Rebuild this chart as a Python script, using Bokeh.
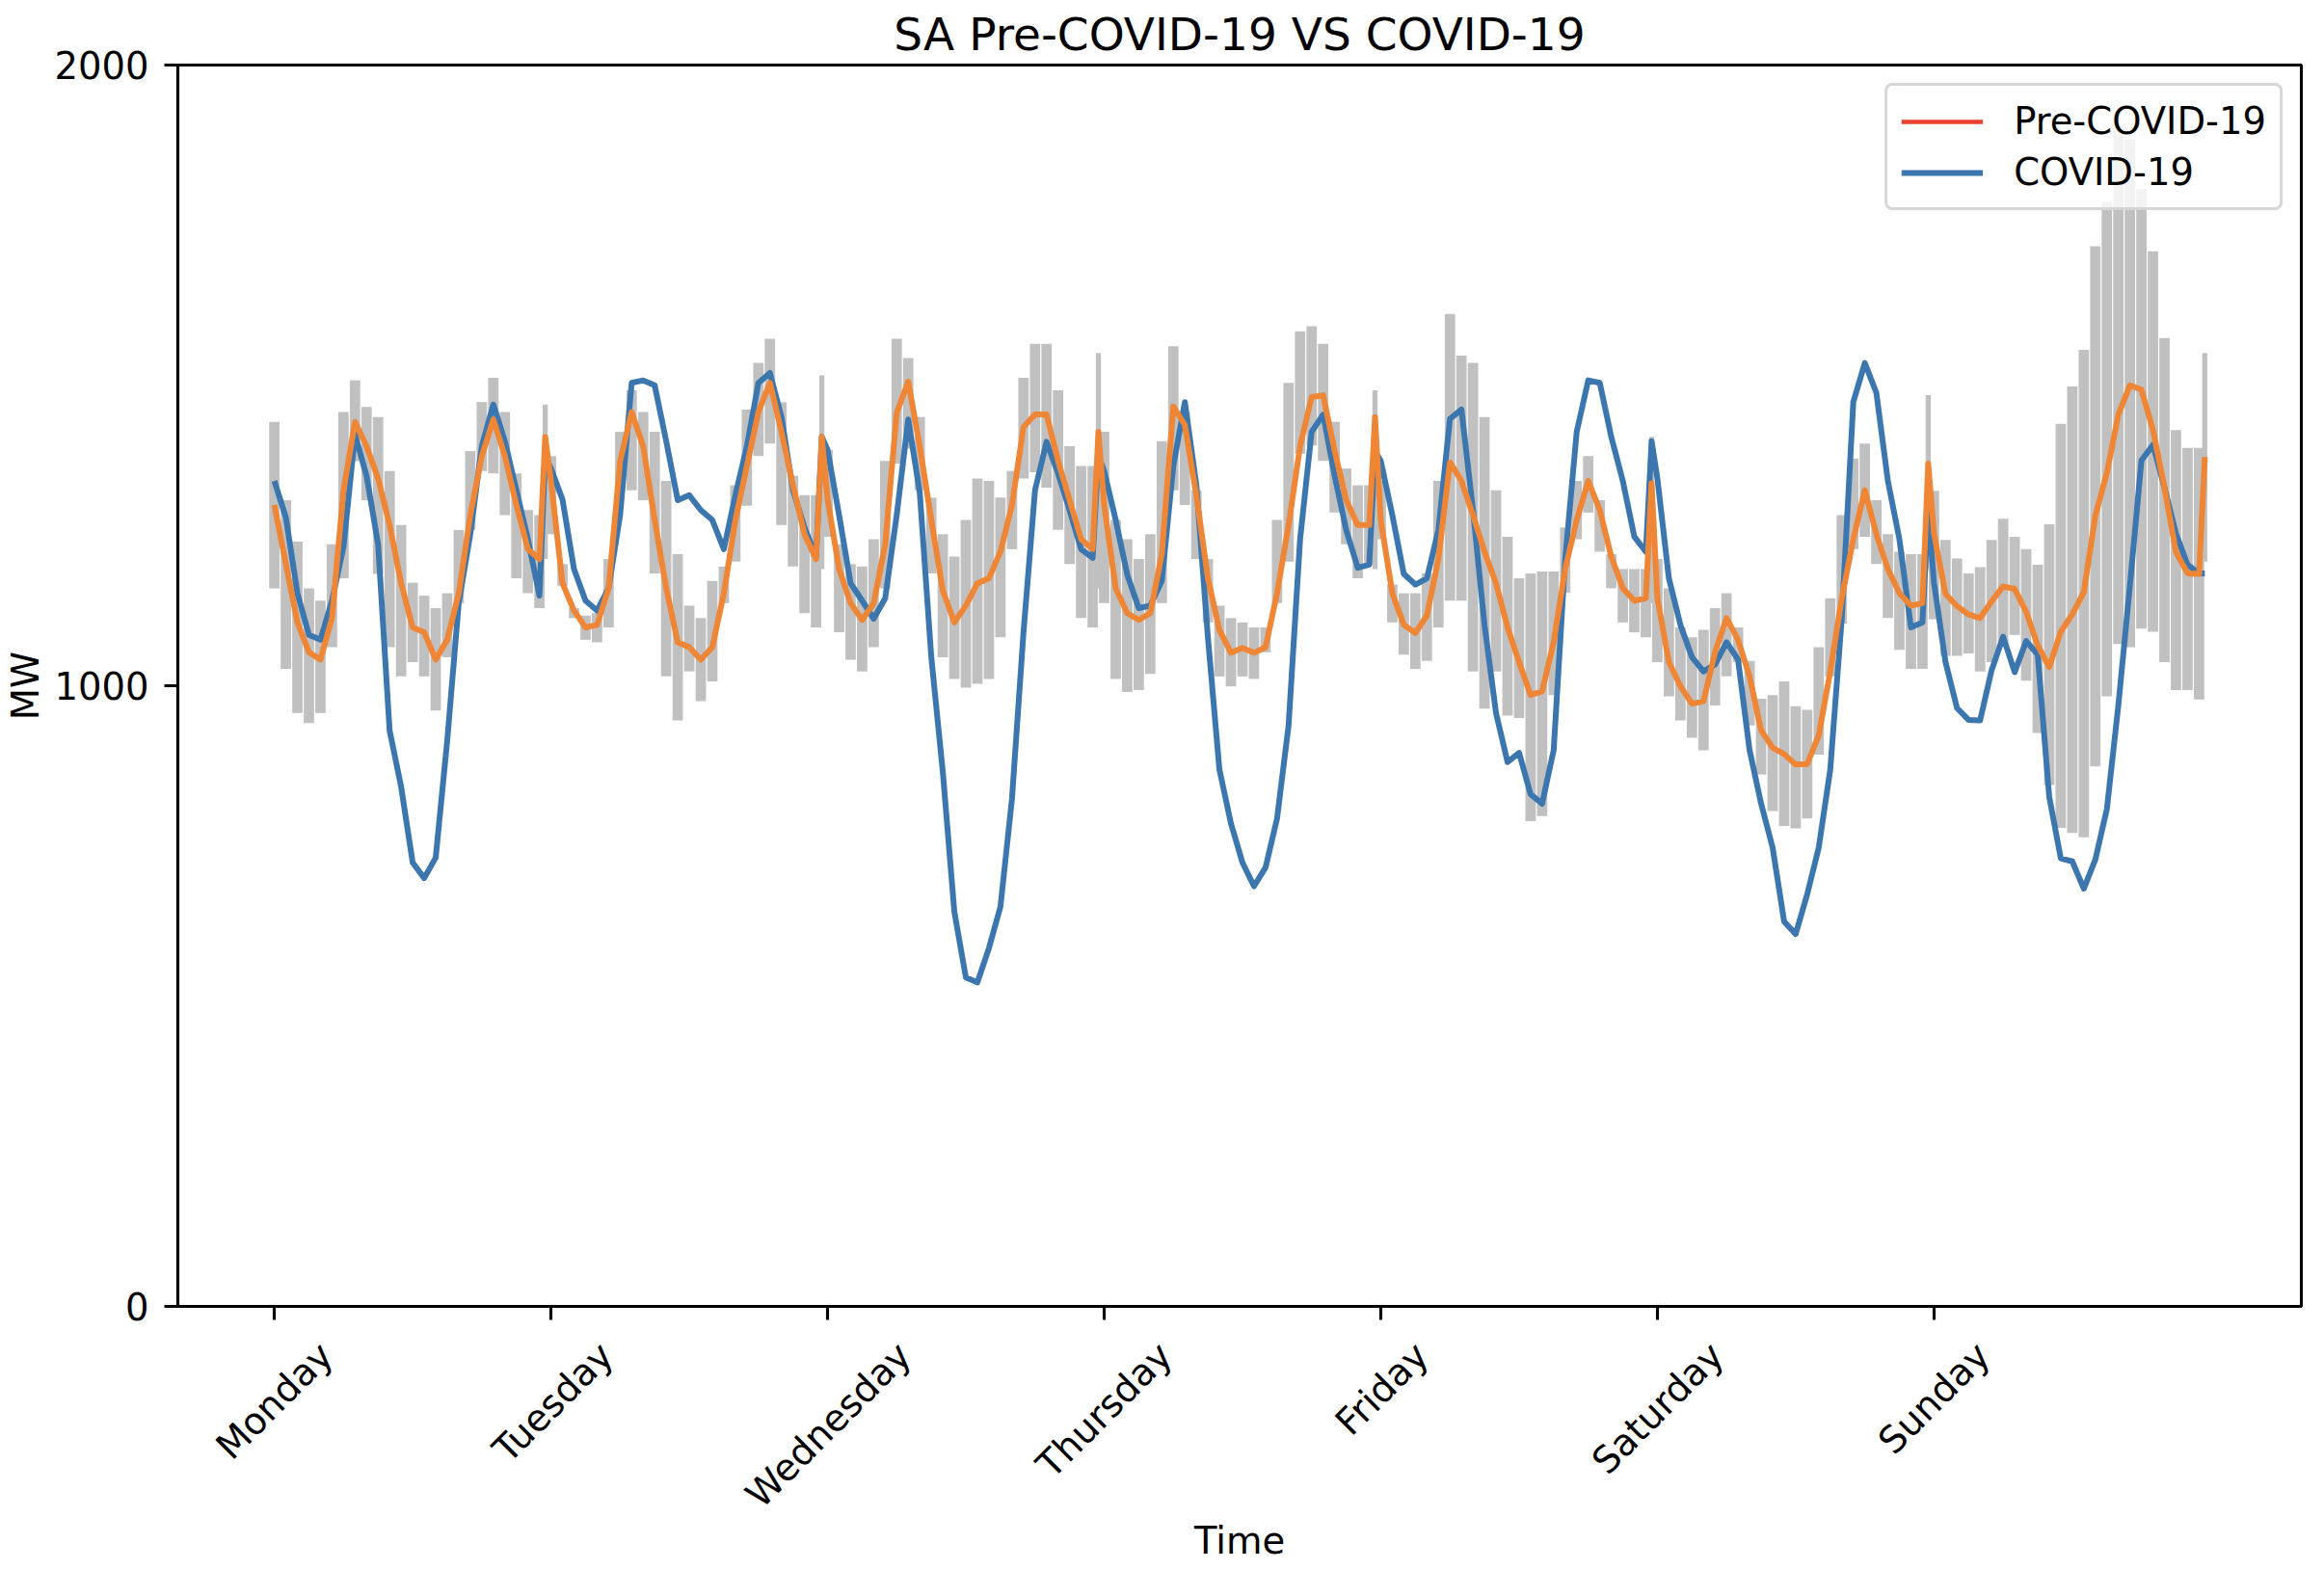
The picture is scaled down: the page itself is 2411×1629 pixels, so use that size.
import math
from bokeh.plotting import figure
from bokeh.models import (Range1d, FixedTicker, Legend, LegendItem, LinearAxis,
                          CustomJSTickFormatter, ColumnDataSource)
from bokeh.embed import file_html
from bokeh.resources import INLINE

# ---------------- data ----------------
DAYS = ["Monday", "Tuesday", "Wednesday", "Thursday", "Friday", "Saturday", "Sunday"]
# half-hour slot of each reading inside a day: every full hour, plus 23:30
DAY_SLOTS = [0, 2, 4, 6, 8, 10, 12, 14, 16, 18, 20, 22, 24, 26, 28, 30,
             32, 34, 36, 38, 40, 42, 44, 46, 47]
SLOTS_PER_DAY = 48

# Pre-COVID-19 mean demand (MW), one row per day
pre_mean = [
    1291, 1196, 1102, 1054, 1042, 1109, 1315, 1425, 1386, 1334, 1259, 1165, 1094, 1086, 1042, 1074, 1149, 1275, 1370, 1429, 1370, 1291, 1220, 1204, 1401,
    1330, 1165, 1121, 1094, 1098, 1157, 1362, 1441, 1386, 1267, 1157, 1070, 1062, 1042, 1062, 1149, 1267, 1354, 1441, 1488, 1409, 1323, 1244, 1204, 1401,
    1300, 1188, 1133, 1106, 1133, 1228, 1440, 1490, 1386, 1267, 1153, 1102, 1129, 1165, 1173, 1216, 1291, 1417, 1437, 1437, 1362, 1299, 1236, 1220, 1409,
    1291, 1157, 1117, 1106, 1117, 1212, 1450, 1420, 1307, 1173, 1090, 1053, 1061, 1053, 1062, 1149, 1259, 1386, 1465, 1468, 1378, 1299, 1259, 1259, 1433,
    1267, 1149, 1098, 1085, 1113, 1204, 1360, 1330, 1275, 1216, 1165, 1094, 1038, 985, 991, 1070, 1188, 1267, 1330, 1283, 1208, 1157, 1137, 1141, 1326,
    1141, 1038, 999, 971, 975, 1054, 1109, 1074, 1015, 928, 900, 890, 873, 874, 920, 1023, 1141, 1236, 1315, 1244, 1188, 1149, 1129, 1133, 1358,
    1245, 1148, 1128, 1115, 1109, 1136, 1160, 1156, 1119, 1065, 1030, 1087, 1115, 1151, 1274, 1343, 1437, 1484, 1477, 1412, 1319, 1215, 1181, 1180, 1368,
]

# COVID-19 demand (MW)
covid = [
    1330, 1271, 1149, 1082, 1074, 1137, 1224, 1405, 1338, 1228, 928, 837, 715, 690, 723, 912, 1133, 1244, 1386, 1453, 1394, 1315, 1236, 1145, 1370,
    1350, 1300, 1188, 1137, 1121, 1157, 1275, 1488, 1492, 1484, 1394, 1299, 1307, 1283, 1267, 1220, 1307, 1386, 1488, 1504, 1433, 1315, 1255, 1208, 1401,
    1380, 1275, 1165, 1137, 1108, 1141, 1275, 1429, 1311, 1046, 861, 636, 530, 522, 577, 644, 818, 1086, 1315, 1393, 1342, 1283, 1220, 1206, 1370,
    1346, 1267, 1179, 1125, 1129, 1169, 1354, 1457, 1323, 1078, 865, 778, 715, 677, 707, 786, 936, 1236, 1409, 1437, 1338, 1251, 1190, 1195, 1378,
    1362, 1275, 1180, 1163, 1173, 1251, 1430, 1445, 1283, 1098, 956, 877, 892, 825, 810, 896, 1204, 1409, 1492, 1488, 1401, 1330, 1240, 1216, 1394,
    1334, 1173, 1098, 1046, 1023, 1034, 1070, 1042, 896, 810, 739, 620, 600, 664, 739, 865, 1109, 1457, 1520, 1472, 1330, 1236, 1094, 1102, 1283,
    1166, 1038, 964, 945, 944, 1025, 1079, 1022, 1072, 1050, 821, 722, 717, 673, 720, 801, 969, 1161, 1363, 1388, 1319, 1245, 1195, 1181, 1181,
]

# Pre-COVID-19 range: maximum (MW)
pre_max = [
    1425, 1299, 1232, 1157, 1137, 1228, 1441, 1492, 1449, 1433, 1346, 1259, 1166, 1145, 1125, 1149, 1251, 1378, 1457, 1496, 1441, 1342, 1283, 1275, 1453,
    1370, 1196, 1125, 1113, 1117, 1204, 1409, 1476, 1441, 1409, 1330, 1212, 1129, 1109, 1169, 1192, 1323, 1445, 1520, 1559, 1457, 1338, 1307, 1307, 1500,
    1380, 1228, 1196, 1192, 1236, 1362, 1559, 1528, 1433, 1303, 1244, 1208, 1267, 1334, 1330, 1303, 1346, 1496, 1551, 1551, 1476, 1386, 1354, 1354, 1536,
    1409, 1267, 1236, 1204, 1244, 1394, 1547, 1441, 1315, 1204, 1129, 1109, 1102, 1094, 1094, 1267, 1488, 1571, 1579, 1551, 1425, 1350, 1323, 1323, 1476,
    1330, 1163, 1149, 1149, 1181, 1330, 1599, 1532, 1520, 1433, 1315, 1240, 1173, 1181, 1184, 1184, 1255, 1330, 1370, 1299, 1212, 1188, 1188, 1188, 1401,
    1204, 1157, 1094, 1078, 1090, 1125, 1149, 1094, 1040, 979, 985, 1007, 967, 961, 1062, 1141, 1275, 1366, 1390, 1299, 1244, 1216, 1212, 1212, 1468,
    1314, 1235, 1205, 1181, 1191, 1235, 1269, 1240, 1220, 1195, 1260, 1422, 1482, 1541, 1708, 1780, 1900, 1880, 1800, 1700, 1560, 1412, 1383, 1383, 1536,
]

# Pre-COVID-19 range: minimum (MW)
pre_min = [
    1157, 1027, 956, 940, 956, 1062, 1173, 1362, 1299, 1180, 1062, 1015, 1038, 1015, 960, 1046, 1133, 1251, 1346, 1342, 1275, 1173, 1149, 1125, 1204,
    1244, 1161, 1109, 1074, 1070, 1094, 1315, 1315, 1299, 1181, 1015, 944, 1023, 975, 1007, 1133, 1200, 1290, 1370, 1390, 1259, 1192, 1117, 1094, 1188,
    1240, 1086, 1042, 1023, 1062, 1157, 1358, 1382, 1315, 1181, 1046, 1011, 997, 1003, 1011, 1078, 1220, 1334, 1344, 1319, 1251, 1196, 1109, 1094, 1157,
    1133, 1011, 990, 993, 1019, 1133, 1315, 1291, 1204, 1102, 1015, 999, 1015, 1011, 1054, 1133, 1200, 1374, 1387, 1362, 1279, 1228, 1173, 1196, 1188,
    1236, 1102, 1050, 1027, 1040, 1094, 1137, 1137, 1023, 963, 1023, 952, 948, 782, 790, 985, 1150, 1236, 1279, 1216, 1157, 1102, 1086, 1078, 1133,
    1038, 983, 944, 916, 896, 968, 1015, 1038, 936, 857, 798, 774, 770, 786, 889, 1015, 1100, 1220, 1240, 1196, 1109, 1058, 1027, 1027, 1188,
    1107, 1048, 1048, 1052, 1023, 1038, 1067, 1082, 1008, 924, 840, 771, 763, 756, 870, 983, 1067, 1062, 1092, 1087, 1038, 993, 993, 978, 1200,
]

TITLE = "SA Pre-COVID-19 VS COVID-19"
X_LABEL = "Time"
Y_LABEL = "MW"
Y_TICKS = [0, 1000, 2000]

# ---------------- derived positions ----------------
xs = [SLOTS_PER_DAY * d + s for d in range(len(DAYS)) for s in DAY_SLOTS]
bar_w = [0.9 if s % 2 else 1.8 for d in range(len(DAYS)) for s in DAY_SLOTS]
day_ticks = [SLOTS_PER_DAY * d for d in range(len(DAYS))]

FONT = "DejaVu Sans"
FS = 38.5
BLUE = "#3b76af"
ORANGE = "#ef8636"
RED = "#e8402c"
GREY = "#c0c0c0"
LW = 6
SPINE = 3.1

x_lo, x_hi = -16.75, 351.75
FRAME_W, FRAME_H = 2203, 1288
PX_PER_UNIT = FRAME_W / (x_hi - x_lo)

p = figure(frame_width=FRAME_W, frame_height=FRAME_H,
           x_range=Range1d(x_lo, x_hi), y_range=Range1d(0, 2000),
           output_backend="svg", toolbar_location=None,
           min_border_left=179, min_border_right=13,
           min_border_top=63, min_border_bottom=200,
           title=TITLE)

p.grid.visible = False
p.background_fill_color = "white"
p.border_fill_color = "white"
p.outline_line_color = "black"
p.outline_line_width = SPINE

p.title.text_font = FONT
p.title.text_font_size = "47px"
p.title.text_font_style = "normal"
p.title.text_color = "black"
p.title.align = "center"

# primary x axis: the tick marks at each day, no text
p.xaxis.ticker = FixedTicker(ticks=day_ticks)
p.xaxis.formatter = CustomJSTickFormatter(code="return ''")
p.xaxis.major_label_standoff = 0
p.xaxis.major_tick_out = 14
p.xaxis.major_tick_in = 0
p.xaxis.major_tick_line_width = SPINE
p.xaxis.major_tick_line_color = "black"
p.xaxis.minor_tick_line_color = None
p.xaxis.axis_line_width = SPINE
p.xaxis.axis_line_color = "black"

# secondary x axis: rotated day names, centred under their ticks
CW = {"M": .863, "o": .612, "n": .634, "d": .635, "a": .613, "y": .592, "T": .611,
      "u": .634, "e": .615, "s": .521, "W": .989, "h": .634, "r": .411, "F": .575,
      "i": .278, "t": .392, "S": .635}
label_ticks, overrides = [], {}
for tick, day in zip(day_ticks, DAYS):
    w = sum(CW.get(c, 0.6) for c in day) * FS
    pos = tick + 0.3536 * w / PX_PER_UNIT
    label_ticks.append(pos)
    overrides[pos] = day
day_axis = LinearAxis(ticker=FixedTicker(ticks=label_ticks),
                      major_label_overrides=overrides,
                      major_label_orientation=math.pi / 4,
                      major_label_text_font=FONT,
                      major_label_text_font_size=f"{FS}px",
                      major_label_text_color="black",
                      major_label_standoff=30,
                      major_tick_out=0, major_tick_in=0,
                      major_tick_line_color=None, minor_tick_line_color=None,
                      axis_line_color=None,
                      axis_label=X_LABEL,
                      axis_label_text_font=FONT,
                      axis_label_text_font_size=f"{FS}px",
                      axis_label_text_font_style="normal",
                      axis_label_text_color="black",
                      axis_label_standoff=-16)
p.add_layout(day_axis, "below")

p.yaxis.ticker = FixedTicker(ticks=Y_TICKS)
p.yaxis.major_label_text_font = FONT
p.yaxis.major_label_text_font_size = f"{FS}px"
p.yaxis.major_label_text_color = "black"
p.yaxis.major_label_standoff = 16
p.yaxis.major_tick_out = 14
p.yaxis.major_tick_in = 0
p.yaxis.major_tick_line_width = SPINE
p.yaxis.major_tick_line_color = "black"
p.yaxis.minor_tick_line_color = None
p.yaxis.axis_line_width = SPINE
p.yaxis.axis_line_color = "black"
p.yaxis.axis_label = Y_LABEL
p.yaxis.axis_label_text_font = FONT
p.yaxis.axis_label_text_font_size = f"{FS}px"
p.yaxis.axis_label_text_font_style = "normal"
p.yaxis.axis_label_text_color = "black"
p.yaxis.axis_label_standoff = 5

src = ColumnDataSource(dict(x=xs, w=bar_w, lo=pre_min, hi=pre_max))
p.vbar(x="x", width="w", bottom="lo", top="hi", source=src,
       fill_color=GREY, line_color=None)

blue_r = p.line(xs, covid, line_color=BLUE, line_width=LW, line_join="round")
# legend swatch for the pre-COVID series (hidden under the orange mean line)
red_r = p.line(xs, pre_mean, line_color=RED, line_width=LW - 1.5, line_join="round")
p.line(xs, pre_mean, line_color=ORANGE, line_width=LW, line_join="round")

legend = Legend(items=[LegendItem(label="Pre-COVID-19", renderers=[red_r]),
                       LegendItem(label="COVID-19", renderers=[blue_r])],
                location="top_right")
legend.margin = 19
legend.padding = 14
legend.spacing = 8
legend.glyph_width = 85
legend.glyph_height = 40
legend.label_height = 40
legend.label_standoff = 32
legend.label_text_font = FONT
legend.label_text_font_size = f"{FS}px"
legend.label_text_color = "black"
legend.border_line_color = "#cccccc"
legend.border_line_alpha = 0.8
legend.border_line_width = 3
legend.background_fill_color = "white"
legend.background_fill_alpha = 0.8
try:
    legend.border_radius = 8
except Exception:
    pass
p.add_layout(legend)

open("out.html", "w").write(file_html(p, INLINE))
